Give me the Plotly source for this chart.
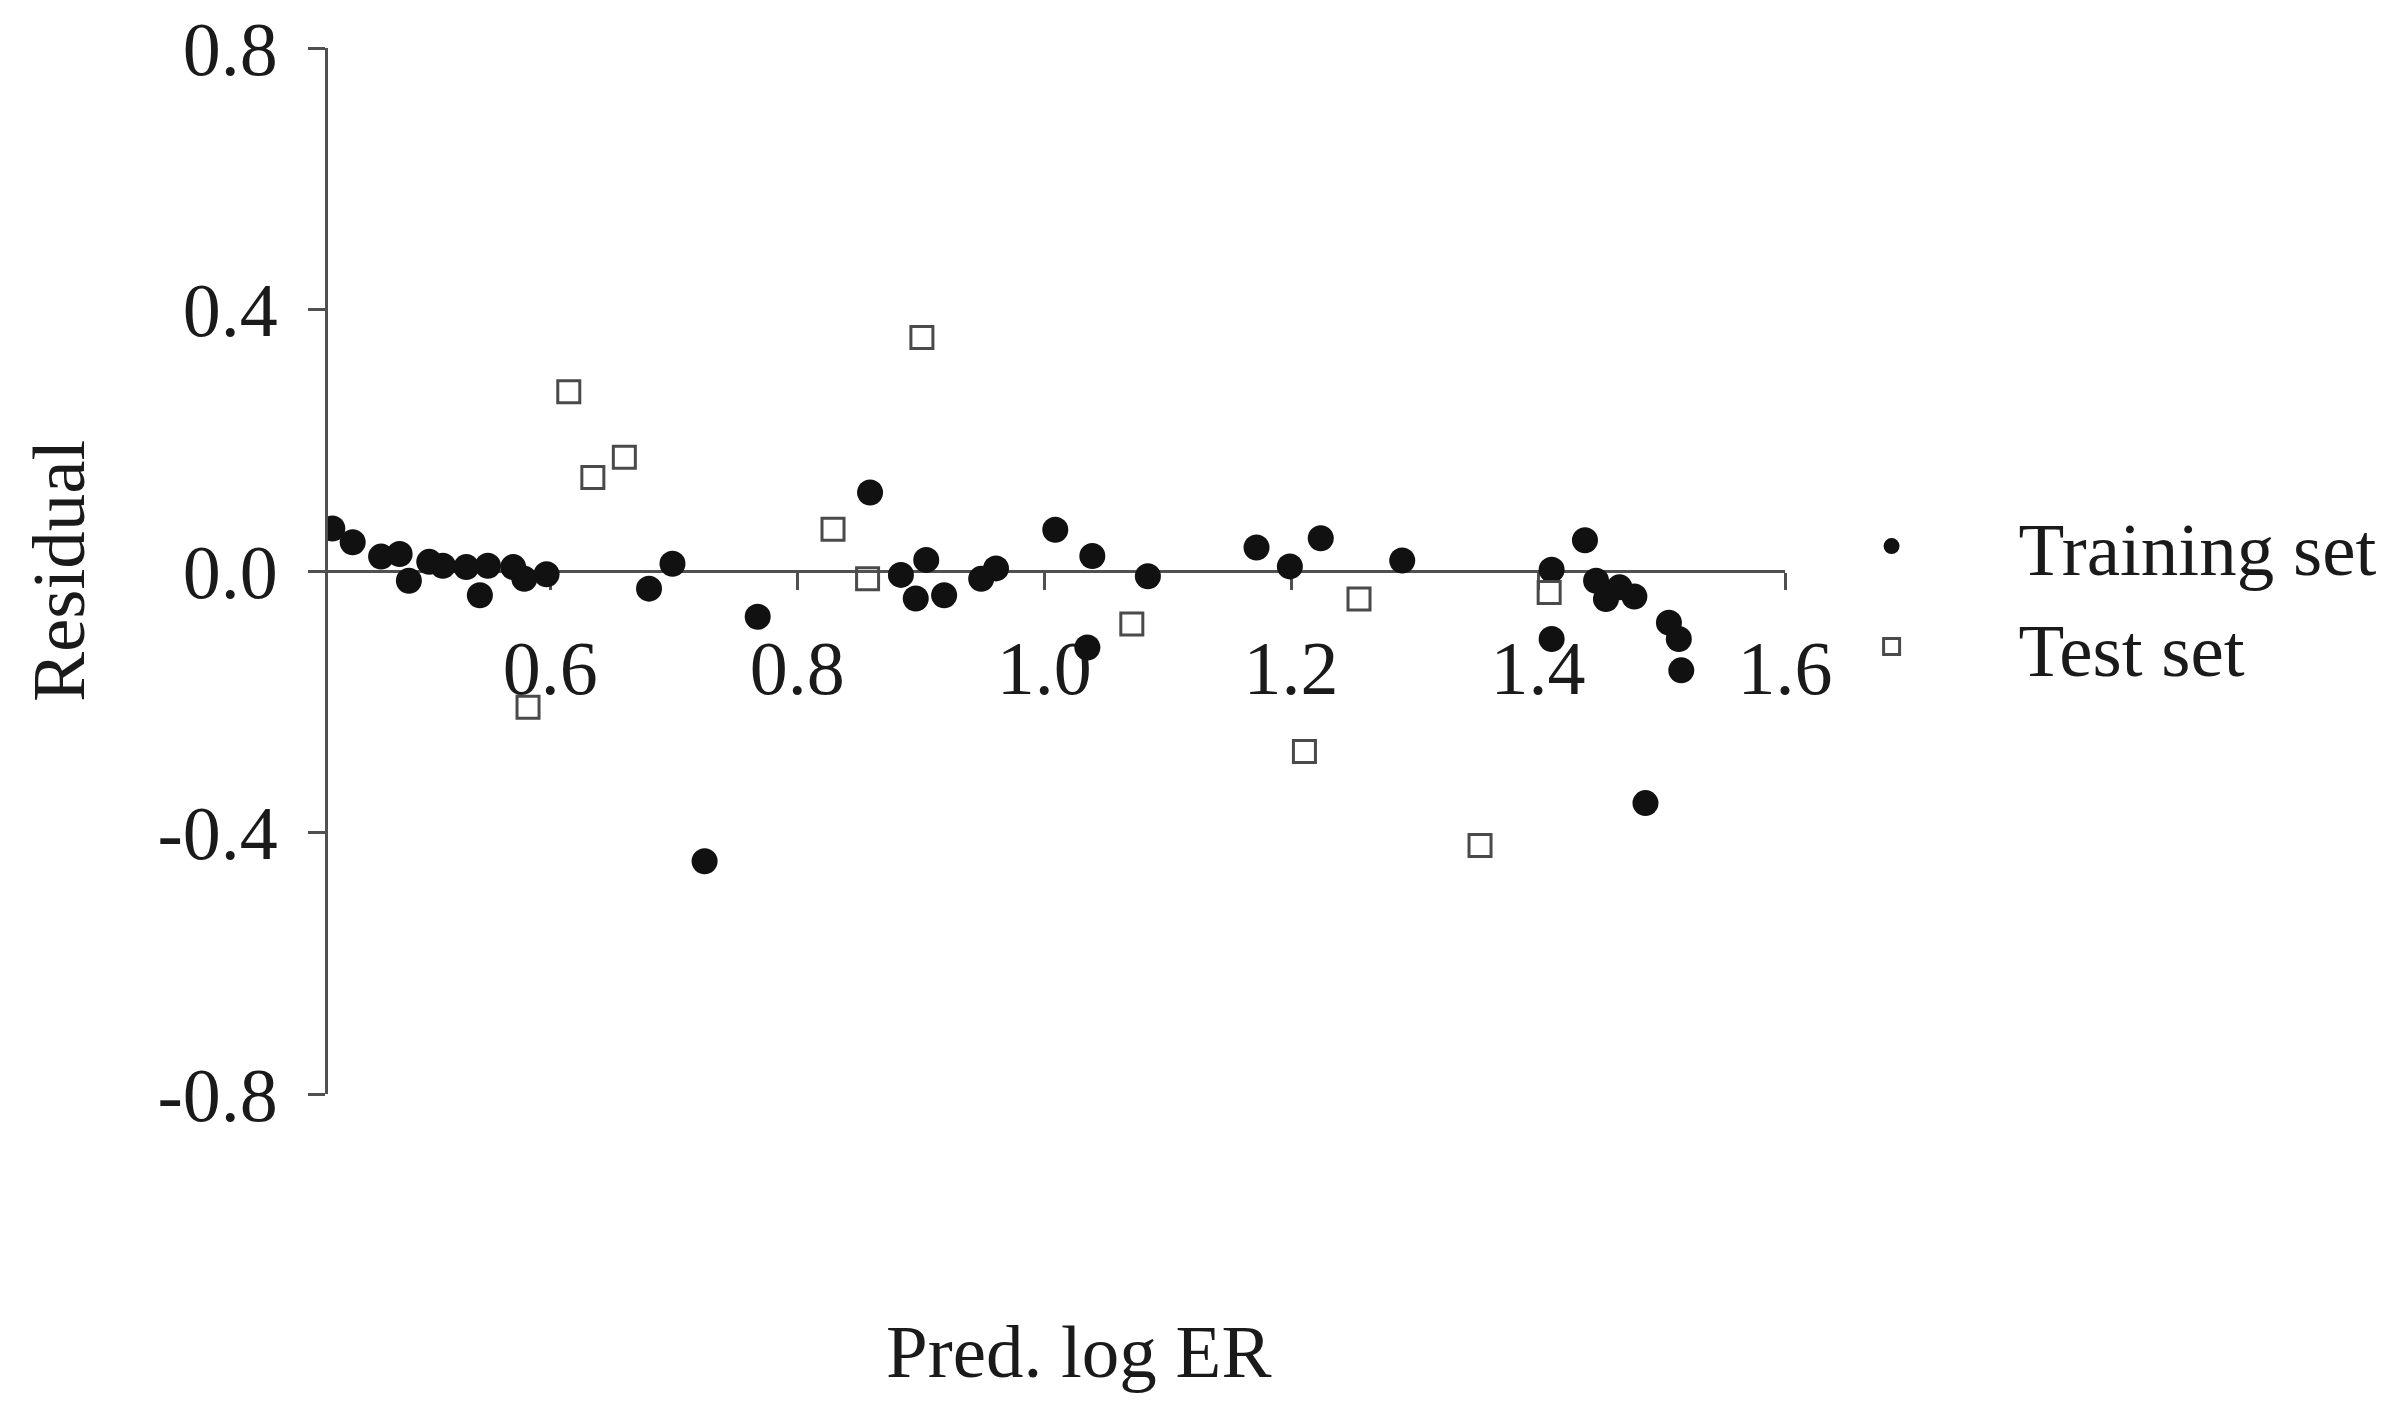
import plotly.graph_objects as go

# ---- data ----
train_x = [0.4235, 0.440, 0.463, 0.478, 0.4855, 0.502, 0.513, 0.532, 0.543, 0.5495,
           0.570, 0.579, 0.597, 0.680, 0.699, 0.725, 0.768, 0.859, 0.884, 0.896,
           0.9045, 0.919, 0.949, 0.961, 1.009, 1.035, 1.039, 1.084, 1.172, 1.199,
           1.224, 1.290, 1.411, 1.411, 1.438, 1.447, 1.455, 1.466, 1.478, 1.487,
           1.506, 1.514, 1.516]
train_y = [0.065, 0.044, 0.022, 0.026, -0.015, 0.014, 0.008, 0.006, -0.037, 0.008,
           0.006, -0.012, -0.005, -0.027, 0.011, -0.444, -0.070, 0.120, -0.006, -0.042,
           0.017, -0.037, -0.012, 0.004, 0.063, -0.117, 0.023, -0.008, 0.036, 0.007,
           0.050, 0.016, 0.002, -0.104, 0.047, -0.015, -0.043, -0.025, -0.039, -0.355,
           -0.079, -0.104, -0.152]

test_x = [0.582, 0.615, 0.6345, 0.660, 0.829, 0.857, 0.901, 1.071, 1.2108, 1.255, 1.353, 1.409]
test_y = [-0.2085, 0.274, 0.143, 0.174, 0.064, -0.012, 0.357, -0.081, -0.276, -0.043, -0.420, -0.033]

x_tickvals = [0.6, 0.8, 1.0, 1.2, 1.4, 1.6]
x_ticktext = ["0.6", "0.8", "1.0", "1.2", "1.4", "1.6"]
y_tickvals = [-0.8, -0.4, 0.0, 0.4, 0.8]
y_ticktext = ["-0.8", "-0.4", "0.0", "0.4", "0.8"]

series_names = ["Training set", "Test set"]
x_title = "Pred. log ER"
y_title = "Residual"

FONT = "Liberation Serif"
AXIS_COLOR = "#505050"
TEXT_COLOR = "#1a1a1a"

fig = go.Figure()
fig.add_trace(go.Scatter(
    x=train_x, y=train_y, mode="markers", name=series_names[0],
    marker=dict(symbol="circle", size=26, color="#111111", line=dict(width=0)),
))
fig.add_trace(go.Scatter(
    x=test_x, y=test_y, mode="markers", name=series_names[1],
    marker=dict(symbol="square-open", size=22, color="#4a4a4a", line=dict(width=3, color="#4a4a4a")),
))

fig.update_layout(
    width=2403, height=1416,
    margin=dict(l=320, r=626, t=40, b=330, autoexpand=False),
    paper_bgcolor="white", plot_bgcolor="white",
    font=dict(family=FONT, color=TEXT_COLOR, size=75),
    showlegend=True,
    legend=dict(
        xref="container", yref="container",
        x=0.731, y=0.659, xanchor="left", yanchor="top",
        font=dict(family=FONT, size=75, color=TEXT_COLOR),
        itemwidth=244, bgcolor="rgba(0,0,0,0)", borderwidth=0,
        tracegroupgap=0,
    ),
    xaxis=dict(
        range=[0.42, 1.6], anchor="free", position=0.5,
        showgrid=False, zeroline=False,
        showline=True, linecolor=AXIS_COLOR, linewidth=3,
        ticks="outside", ticklen=17, tickwidth=3, tickcolor=AXIS_COLOR,
        tickvals=x_tickvals, ticktext=x_ticktext,
        tickfont=dict(family=FONT, size=76, color=TEXT_COLOR),
        ticklabelstandoff=13, ticklabeloverflow="allow",
        layer="below traces",
    ),
    yaxis=dict(
        range=[-0.8, 0.8],
        showgrid=False, zeroline=False,
        showline=True, linecolor=AXIS_COLOR, linewidth=3,
        ticks="outside", ticklen=17, tickwidth=3, tickcolor=AXIS_COLOR,
        tickvals=y_tickvals, ticktext=y_ticktext,
        tickfont=dict(family=FONT, size=76, color=TEXT_COLOR),
        ticklabelstandoff=15, ticklabeloverflow="allow",
        layer="below traces",
    ),
    annotations=[
        dict(text=x_title, xref="paper", yref="paper", x=0.515, y=-0.2457,
             xanchor="center", yanchor="middle", showarrow=False,
             font=dict(family=FONT, size=75, color=TEXT_COLOR)),
        dict(text=y_title, xref="paper", yref="paper", x=-0.1853, y=0.5,
             xanchor="center", yanchor="middle", showarrow=False, textangle=-90,
             font=dict(family=FONT, size=75, color=TEXT_COLOR)),
    ],
)

fig.write_html("out.html")
